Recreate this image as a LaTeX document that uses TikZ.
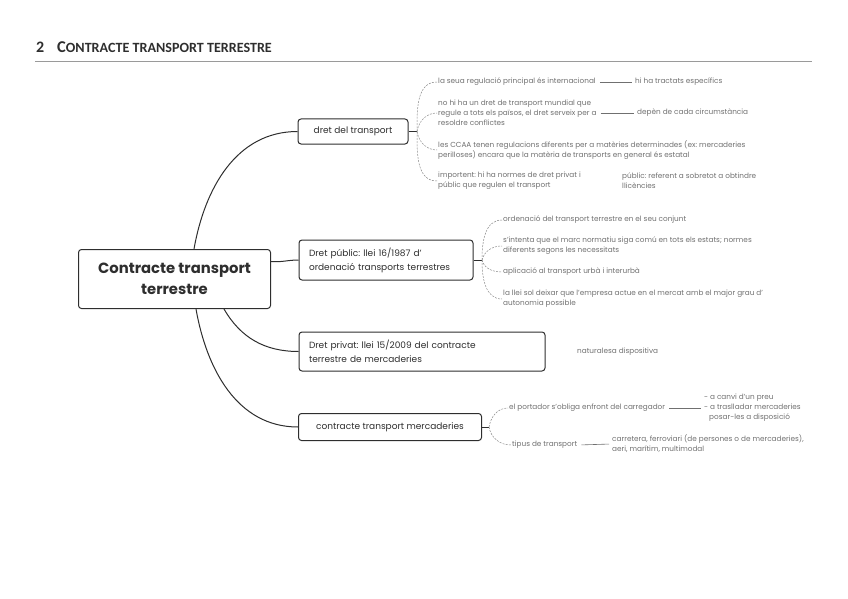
\documentclass[tikz,border=0pt]{standalone}
\usepackage{fontspec}
\setmainfont{Poppins}
\newfontfamily\hdfont{Carlito}
\usetikzlibrary{calc}
\definecolor{ink}{HTML}{2E2E2E}
\definecolor{soft}{HTML}{707070}
\definecolor{dashc}{HTML}{8A8A8A}
\definecolor{rulec}{HTML}{9A9A9A}
\begin{document}
\frenchspacing
\begin{tikzpicture}[x=1pt,y=-1pt,
  box/.style={draw=ink, line width=1pt, rounded corners=3pt, text=ink, font=\fontsize{9}{14}\selectfont, inner xsep=8pt, align=left},
  leaf/.style={anchor=west, inner sep=1pt, text=soft, font=\fontsize{7.3}{10}\selectfont, align=left},
  branch/.style={draw=ink, line width=1pt},
  twig/.style={draw=dashc, line width=0.5pt, dash pattern=on 2pt off 1.2pt},
  link/.style={draw=soft, line width=0.6pt, shorten <=3pt, shorten >=2pt},
  stub/.style={draw=ink, line width=0.6pt}]
\useasboundingbox (0,0) rectangle (848,599);
% header
\node[anchor=base west, inner sep=0, text=ink, font=\hdfont\bfseries\fontsize{16}{18}\selectfont] (hdnum) at (36,53) {2};
\node[anchor=base west, inner sep=0, text=ink, font=\hdfont\bfseries] (hdtxt) at (57,53) {{\fontsize{16.5}{18}\selectfont C}{\fontsize{14.1}{15}\selectfont ONTRACTE TRANSPORT TERRESTRE}};
\coordinate (rl) at (35,61);
\coordinate (rr) at (812,61);
\draw[draw=rulec, line width=0.9pt] (rl) -- (rr);
% main boxes
\node[box, minimum width=192pt, minimum height=59pt, align=center, font=\fontsize{14.8}{21}\selectfont\bfseries] (main) at (174.5,279) {Contracte transport\\terrestre};
\node[box, minimum width=110pt, minimum height=25pt, align=center] (dret) at (353,131.5) {dret del transport};
\node[box, text width=154pt, inner xsep=10pt, minimum height=40pt] (pub) at (386,260) {Dret públic: llei 16/1987 d'\\ordenació transports terrestres};
\node[box, text width=226pt, inner xsep=10pt, minimum height=39pt] (priv) at (422,351.5) {Dret privat: llei 15/2009 del contracte\\terrestre de mercaderies};
\node[box, minimum width=183pt, minimum height=27pt, align=center] (merc) at (390,427) {contracte transport mercaderies};
% main branches
\coordinate (m1) at ($(main.north west)+(116,0)$);
\coordinate (m2) at ($(main.north east)+(0,12.5)$);
\coordinate (m3) at ($(main.south west)+(146,0)$);
\coordinate (m4) at ($(main.south west)+(118,0)$);
\draw[branch] (m1) to[out=80,in=180] (dret.west);
\draw[branch] (m2) to[out=-5,in=180] (pub.west);
\draw[branch] (m3) to[out=-60,in=180] (priv.west);
\draw[branch] (m4) to[out=-80,in=180] (merc.west);
% dret del transport leaves
\node[leaf] (a1) at (437,82) {la seua regulació principal és internacional};
\node[leaf] (a1b) at (634,82) {hi ha tractats específics};
\node[leaf] (a2) at (437,113) {no hi ha un dret de transport mundial que\\regule a tots els països, el dret serveix per a\\resoldre conflictes};
\node[leaf] (a2b) at (636,113) {depèn de cada circumstància};
\node[leaf] (a3) at (437,150) {les CCAA tenen regulacions diferents per a matèries determinades (ex: mercaderies\\perilloses) encara que la matèria de transports en general és estatal};
\node[leaf] (a4) at (437,181) {importent: hi ha normes de dret privat i\\públic que regulen el transport};
\node[leaf] (a4b) at (621,181) {públic: referent a sobretot a obtindre\\llicències};
\coordinate (dj) at (417,131.5);
\draw[stub] (dret.east) -- (dj);
\draw[twig] (dj) to[out=90,in=180] (a1.west);
\draw[twig] (dj) to[out=80,in=180] (a2.west);
\draw[twig] (dj) to[out=-80,in=180] (a3.west);
\draw[twig] (dj) to[out=-90,in=180] (a4.west);
\draw[link] (a1.east) -- (a1b.west);
\draw[link] (a2.east) -- (a2b.west);
% dret public leaves
\node[leaf] (b1) at (502,220) {ordenació del transport terrestre en el seu conjunt};
\node[leaf] (b2) at (502,246) {s'intenta que el marc normatiu siga comú en tots els estats; normes\\diferents segons les necessitats};
\node[leaf] (b3) at (502,272) {aplicació al transport urbà i interurbà};
\node[leaf] (b4) at (502,299) {la llei sol deixar que l'empresa actue en el mercat amb el major grau d'\\autonomia possible};
\coordinate (pj) at (482,260);
\draw[stub] (pub.east) -- (pj);
\draw[twig] (pj) to[out=90,in=180] (b1.west);
\draw[twig] (pj) to[out=75,in=180] (b2.west);
\draw[twig] (pj) to[out=-75,in=180] (b3.west);
\draw[twig] (pj) to[out=-90,in=180] (b4.west);
% dret privat leaf
\node[leaf] (c1) at (576,352) {naturalesa dispositiva};
% contracte leaves
\node[leaf] (e1) at (508,408) {el portador s'obliga enfront del carregador};
\node[leaf] (e1b) at (703,408) {- a canvi d'un preu\\- a traslladar mercaderies\\\hspace*{5pt}posar-les a disposició};
\node[leaf] (e2) at (511,445) {tipus de transport};
\node[leaf] (e2b) at (611,444) {carretera, ferroviari (de persones o de mercaderies),\\aeri, marítim, multimodal};
\coordinate (cj) at (489,427);
\draw[stub] (merc.east) -- (cj);
\draw[twig] (cj) to[out=80,in=180] (e1.west);
\draw[twig] (cj) to[out=-80,in=180] (e2.west);
\draw[link] (e1.east) -- (e1b.west);
\draw[link] (e2.east) -- (e2b.west);
\end{tikzpicture}
\end{document}
